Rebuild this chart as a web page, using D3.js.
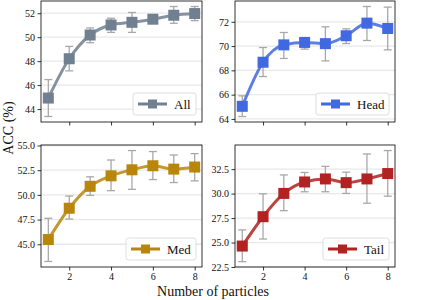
<!DOCTYPE html>
<html>
<head>
<meta charset="utf-8">
<script src="https://cdn.jsdelivr.net/npm/d3@7"></script>
<style>
  body { margin: 0; background: #fff; }
  svg { display: block; font-family: "Liberation Serif", "DejaVu Serif", serif; }
</style>
</head>
<body>
<script>
// number of particles
var particles = [1, 2, 3, 4, 5, 6, 7, 8];

// mean accuracy and error bar ends for each group
var allMean = [44.92, 48.2, 50.18, 51.02, 51.24, 51.5, 51.83, 51.97];
var allLow  = [43.38, 47.19, 49.54, 50.4, 50.4, 51.16, 51.16, 51.38];
var allHigh = [46.46, 49.23, 50.77, 51.58, 52.06, 51.78, 52.56, 52.56];

var headMean = [65.04, 68.67, 70.1, 70.3, 70.2, 70.85, 71.89, 71.45];
var headLow  = [64.2, 67.49, 68.98, 69.75, 68.78, 70.21, 70.46, 69.69];
var headHigh = [65.9, 69.88, 71.12, 70.7, 71.59, 71.42, 73.26, 73.21];

var medMean = [45.48, 48.65, 50.87, 51.93, 52.54, 52.95, 52.61, 52.82];
var medLow  = [43.26, 47.56, 49.95, 50.43, 50.56, 51.55, 51.25, 51.42];
var medHigh = [47.63, 49.88, 51.83, 53.53, 54.49, 54.39, 54.04, 54.18];

var tailMean = [24.64, 27.64, 30.02, 31.19, 31.5, 31.12, 31.5, 32.05];
var tailLow  = [23.05, 25.36, 28.26, 30.19, 30.19, 30.02, 29.02, 29.74];
var tailHigh = [26.29, 29.98, 31.91, 32.16, 32.78, 32.19, 34.05, 34.4];

var xTicks = [2, 4, 6, 8];
var allTicks = [44, 46, 48, 50, 52];
var headTicks = [64, 66, 68, 70, 72];
var medTicks = [45.0, 47.5, 50.0, 52.5, 55.0];
var tailTicks = [22.5, 25.0, 27.5, 30.0, 32.5];

var groupNames = ["All", "Head", "Med", "Tail"];
var groupColors = ["#708090", "#4169e1", "#b8860b", "#b22222"];

var panels = [
    {name: groupNames[0], color: groupColors[0], mean: allMean, low: allLow, high: allHigh, ticks: allTicks, fmt: d3.format("d"), col: 0, row: 0},
    {name: groupNames[1], color: groupColors[1], mean: headMean, low: headLow, high: headHigh, ticks: headTicks, fmt: d3.format("d"), col: 1, row: 0},
    {name: groupNames[2], color: groupColors[2], mean: medMean, low: medLow, high: medHigh, ticks: medTicks, fmt: d3.format(".1f"), col: 0, row: 1},
    {name: groupNames[3], color: groupColors[3], mean: tailMean, low: tailLow, high: tailHigh, ticks: tailTicks, fmt: d3.format(".1f"), col: 1, row: 1}
];

var width = 436, height = 300;
var cols = [[41, 202], [235, 395]];
var rows = [[1, 122], [145, 267]];

var svg = d3.select("body").append("svg")
    .attr("width", width)
    .attr("height", height);

panels.forEach(function (p) {
    var x0 = cols[p.col][0], x1 = cols[p.col][1];
    var y0 = rows[p.row][0], y1 = rows[p.row][1];

    var x = d3.scaleLinear().domain([0.65, 8.35]).range([x0, x1]);
    // matplotlib style 5% margin around the error bars
    var lo = d3.min(p.low), hi = d3.max(p.high), pad = (hi - lo) * 0.05;
    var y = d3.scaleLinear().domain([lo - pad, hi + pad]).range([y1, y0]);
    if (p.name === "Tail") y.domain([22.5, hi + pad]);

    var g = svg.append("g");

    // grid lines
    g.selectAll(".grid").data(p.ticks.filter(function (t) { return y(t) >= y0 && y(t) <= y1; }))
        .enter().append("line")
        .attr("x1", x0).attr("x2", x1)
        .attr("y1", function (d) { return y(d); })
        .attr("y2", function (d) { return y(d); })
        .attr("stroke", "#e8e8e8")
        .attr("stroke-width", 1.3);

    // axes
    var yAxis = g.append("g")
        .attr("transform", "translate(" + x0 + ",0)")
        .call(d3.axisLeft(y).tickValues(p.ticks).tickFormat(p.fmt).tickSize(3.5).tickPadding(2.5));
    var xAxis = g.append("g")
        .attr("transform", "translate(0," + y1 + ")")
        .call(d3.axisBottom(x).tickValues(xTicks).tickFormat(p.row === 1 ? d3.format("d") : "").tickSize(3.5).tickPadding(2.5));
    [yAxis, xAxis].forEach(function (a) {
        a.select(".domain").remove();
        a.selectAll("line").attr("stroke", "#000").attr("stroke-width", 0.8);
        a.selectAll("text").attr("fill", "#111").style("font-size", "10px")
            .style("font-family", "'Liberation Serif', serif");
    });

    // error bars
    var eb = g.append("g").attr("stroke", "#a8a8a8").attr("stroke-width", 1.3).attr("fill", "none");
    particles.forEach(function (n, i) {
        var cx = x(n);
        eb.append("line").attr("x1", cx).attr("x2", cx).attr("y1", y(p.low[i])).attr("y2", y(p.high[i]));
        eb.append("line").attr("x1", cx - 4).attr("x2", cx + 4).attr("y1", y(p.low[i])).attr("y2", y(p.low[i]));
        eb.append("line").attr("x1", cx - 4).attr("x2", cx + 4).attr("y1", y(p.high[i])).attr("y2", y(p.high[i]));
    });

    // line + square markers
    var line = d3.line()
        .x(function (d, i) { return x(particles[i]); })
        .y(function (d) { return y(d); })
        .curve(d3.curveMonotoneX);
    g.selectAll(".mk").data(p.mean).enter().append("rect")
        .attr("x", function (d, i) { return x(particles[i]) - 5.5; })
        .attr("y", function (d) { return y(d) - 5.5; })
        .attr("width", 11).attr("height", 11)
        .attr("fill", p.color);
    g.append("path")
        .datum(p.mean)
        .attr("d", line)
        .attr("fill", "none")
        .attr("stroke", p.color)
        .attr("stroke-opacity", 0.85)
        .attr("stroke-width", 3);

    // frame
    g.append("rect")
        .attr("x", x0).attr("y", y0)
        .attr("width", x1 - x0).attr("height", y1 - y0)
        .attr("fill", "none").attr("stroke", "#000").attr("stroke-width", 0.8);

    // legend
    var lw = p.name === "All" ? 63 : (p.name === "Head" ? 73 : (p.name === "Med" ? 70 : 66));
    var lx = x1 - 6 - lw, ly = y1 - 29;
    var lg = g.append("g").attr("transform", "translate(" + lx + "," + ly + ")");
    lg.append("rect")
        .attr("width", lw).attr("height", 22).attr("rx", 2.5)
        .attr("fill", "#fff").attr("fill-opacity", 0.85)
        .attr("stroke", "#d6d6d6").attr("stroke-width", 0.8);
    lg.append("line")
        .attr("x1", 5).attr("x2", 34).attr("y1", 11).attr("y2", 11)
        .attr("stroke", p.color).attr("stroke-width", 3);
    lg.append("rect")
        .attr("x", 15).attr("y", 6.5).attr("width", 9).attr("height", 9)
        .attr("fill", p.color);
    lg.append("text")
        .attr("x", 41).attr("y", 15.5)
        .attr("fill", "#111")
        .style("font-size", "13px")
        .text(p.name);
});

svg.append("text")
    .attr("x", 213).attr("y", 296)
    .attr("text-anchor", "middle")
    .style("font-size", "14px")
    .attr("fill", "#111")
    .text("Number of particles");

svg.append("text")
    .attr("transform", "translate(13,128) rotate(-90)")
    .attr("text-anchor", "middle")
    .style("font-size", "14px")
    .attr("fill", "#111")
    .text("ACC (%)");
</script>
</body>
</html>
